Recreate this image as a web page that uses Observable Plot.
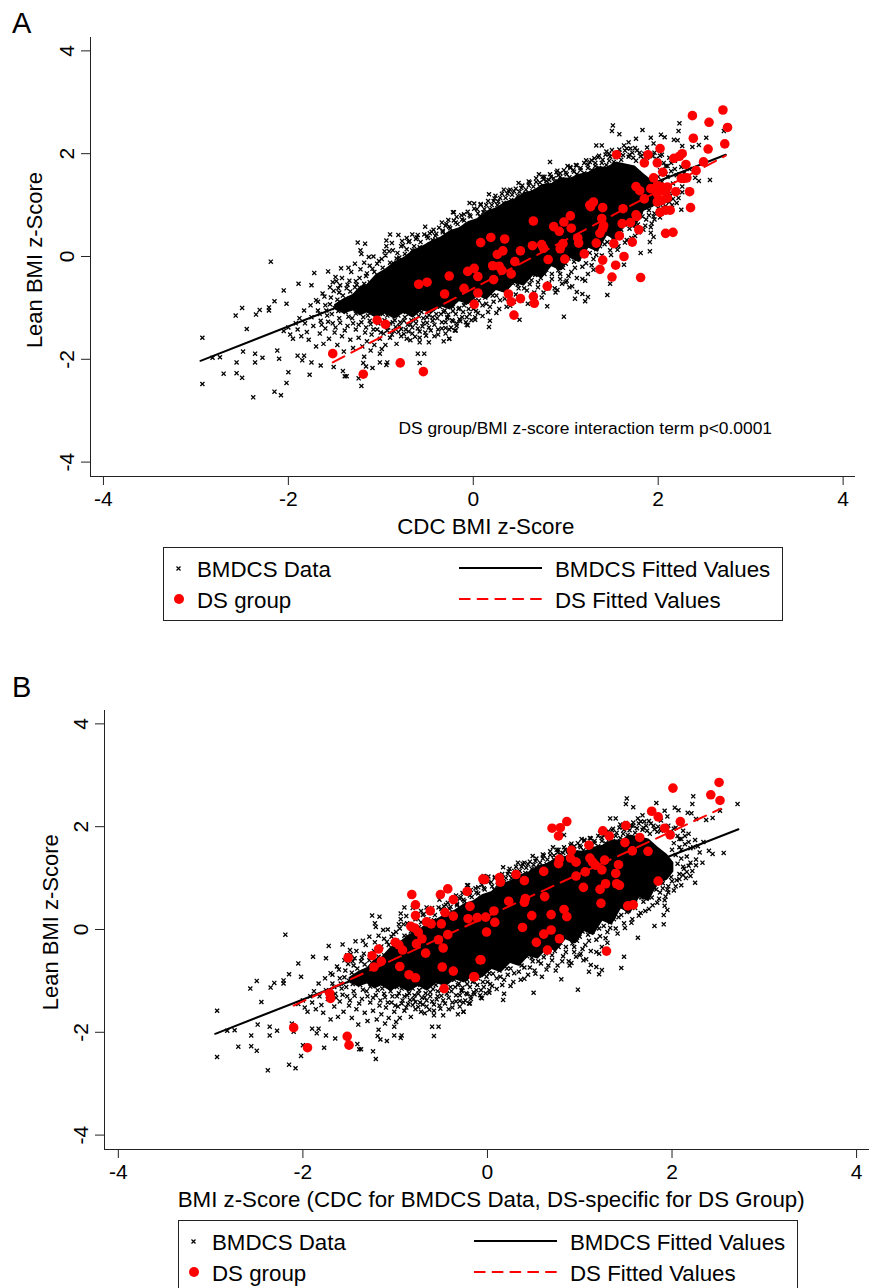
<!DOCTYPE html>
<html><head><meta charset="utf-8">
<script src="https://cdn.jsdelivr.net/npm/d3@7"></script>
<script src="https://cdn.jsdelivr.net/npm/@observablehq/plot@0.6"></script>
<style>
html,body{margin:0;padding:0;background:#fff;width:874px;height:1288px;overflow:hidden;font-family:"Liberation Sans",Arial,sans-serif;color:#000}
#page{position:relative;width:874px;height:1288px;overflow:hidden}
.panel{position:absolute;left:0}
.letter{position:absolute;left:12px;font-size:29px;line-height:32px}
.legend{position:absolute;width:618px;height:72px;border:1px solid #222;box-sizing:content-box;background:#fff}
.legend span{position:absolute;font-size:22.3px;line-height:24px;white-space:nowrap}
.legend svg{position:absolute;left:0;top:0;overflow:visible}
</style></head><body><div id="page"></div>
<script>
const tickValues=[-4,-2,0,2,4];
const xDomainA=[-4.14,4.134], xDomainB=[-4.15,4.14], yDomain=[-4.28,4.26];
const legendLabels=["BMDCS Data","DS group","BMDCS Fitted Values","DS Fitted Values"];
const fitBlackA=[[-2.95,-2.03],[2.73,1.98]], fitRedA=[[-1.52,-2.06],[2.73,1.96]];
const fitBlackB=[[-2.95,-2.03],[2.72,1.95]], fitRedB=[[-2.1,-1.48],[2.53,2.35]];
const coreX=[-1.5,-1.4,-1.3,-1.22,-1.15,-1.05,-.95,-.85,-.75,-.65,-.55,-.45,-.35,-.25,-.15,-.05,.05,.15,.25,.35,.45,.55,.65,.75,.85,.95,1.05,1.15,1.25,1.35,1.45,1.55,1.65,1.75,1.85,1.95,2.02];
const coreLow=[-1.02,-1.12,-1.06,-1.16,-1.1,-1.2,-1.12,-1.22,-1.1,-1.2,-1.05,-1.12,-.98,-1.04,-.88,-.94,-.78,-.84,-.66,-.72,-.52,-.58,-.38,-.42,-.2,-.28,-.04,-.12,.16,.08,.4,.3,.62,.54,.88,.96,1.12];
const coreHigh=[-.94,-.82,-.74,-.58,-.55,-.35,-.25,-.1,-.02,.12,.2,.3,.38,.5,.56,.68,.74,.88,.95,1.06,1.12,1.24,1.28,1.4,1.42,1.53,1.52,1.6,1.64,1.74,1.74,1.84,1.8,1.76,1.6,1.46,1.3];
const bmdcsOuter=[[-2.93,-1.58],[-2.93,-2.48],[-2.19,-.1],[-2.82,-1.97],[-2.74,-1.96],[-2.7,-2.28],[-2.56,-2.06],[-2.56,-2.27],[-2.5,-2.36],[-2.49,-1.85],[-2.36,-1.89],[-2.36,-2.06],[-2.28,-1.97],[-2.38,-2.74],[-2.15,-2.63],[-2.08,-2.7],[-2.02,-2.46],[-2,-2.25],[-2.1,-1.99],[-2.12,-1.83],[-2.57,-1.15],[-2.5,-1],[-2.45,-1.41],[-2.35,-1.13],[-2.31,-1.04],[-2.21,-.99],[-2.21,-1.05],[-2.15,-.87],[-2.05,-.66],[-2.02,-.92],[-1.89,-.53],[-1.75,-.56],[-1.72,-.32],[-1.57,-.29],[-1.43,-.23],[-1.28,-.14],[-1.25,.27],[-1.17,.25],[-1.22,.12],[-1.21,.05],[-1.13,-.01],[-.9,.43],[-.81,.42],[-.94,.31],[-.88,.26],[-.94,.2],[-.66,.43],[-.72,.36],[-.52,.58],[-.43,.52],[-.34,.66],[-.27,.71],[-.21,.86],[-.18,.77],[-.04,1.04],[.01,1.03],[-1.9,-1.93],[-1.83,-1.93],[-1.85,-2.02],[-1.75,-2.06],[-1.65,-2.12],[-1.77,-2.3],[-1.51,-2.15],[-1.41,-2.23],[-1.39,-2.33],[-1.37,-2.33],[-1.24,-2.37],[-1.21,-2.52],[-1.18,-1.95],[-1.19,-2.07],[-1.16,-2.14],[-1.09,-2.17],[-1.01,-2.06],[-.93,-2.06],[-.94,-2.11],[-.6,-1.89],[-.53,-1.89],[-.58,-2.07],[-1.11,-1.83],[-1.01,-1.89],[-.99,-1.8],[-.68,-1.63],[-.58,-1.67],[-.48,-1.67],[-.32,-1.65],[-.26,-1.6],[-.2,-1.44],[-.06,-1.34],[.02,-1.18],[1.51,2.55],[1.5,2.44],[1.58,2.38],[1.83,2.46],[2.23,2.59],[2.22,2.44],[2.03,2.37],[2.07,2.32],[2.71,2.44],[2.52,2.31],[2.37,2.13],[2.44,2.17],[2.26,2.15],[2.17,2.27],[2.21,2.26],[1.92,2.31],[1.95,2.2],[1.76,2.29],[1.75,2.11],[1.68,2.22],[1.63,2.16],[1.33,2.16],[1.39,2.16],[1.44,2.04],[.83,1.84],[1.02,1.76],[1.11,1.78],[1.22,1.87],[1.31,1.91],[.91,1.67],[.71,1.6],[.82,1.49],[.49,1.43],[.33,1.3],[.17,1.21],[-.22,.86],[2.56,1.49],[2.4,1.53],[2.44,1.47],[2.26,1.36],[2.22,1.14],[2.25,.91],[1.95,.78],[1.92,.57],[1.95,.38],[1.91,.28],[1.91,.1],[1.81,.07],[1.63,-.16],[1.48,-.53],[1.45,-.75],[1.24,-.79],[1.21,-.87],[1.18,-.73],[1.12,-.69],[1.1,-.82],[.98,-1.17],[.8,-.97],[.91,-.65],[1.04,-.6],[1.21,-.47],[1.28,-.17],[1.01,-.47],[.94,-.34],[.18,-1.25],[.17,-1.37],[.5,-1.23],[.02,-1.23],[-.07,-1.33],[-.19,-1.44],[-.22,-1.26],[-.3,-1.39],[-.26,-1.6],[-.28,-1.18],[-.15,-1.22]];
const bmdcsUpper=[[-1.52,-.5],[-1.46,-.62],[-1.42,-.42],[-1.36,-.55],[-1.32,-.3],[-1.27,-.48],[-1.22,-.25],[-1.16,-.38],[-1.12,-.18],[-1.07,-.3],[-1.02,-.09],[-.98,-.22],[-.95,.02],[-.9,-.12],[-.87,.12],[-.83,-.04],[-.78,.2],[-.74,.05],[-.7,.28],[-.66,.12],[-.62,.34],[-.58,.18],[-.55,.08],[-.5,.4],[-.47,.24],[-.44,.32],[-.4,.44],[-.37,.28],[-.33,.5],[-.3,.42],[-.26,.58],[-.23,.4],[-.19,.66],[-.15,.5],[-.12,.72],[-.08,.6],[-.04,.8],[0,.66],[.04,.92],[.07,.78],[.11,.86],[.14,1.0],[.18,.92],[.22,1.08],[.26,1.0],[.29,1.14],[.33,1.04],[.37,1.22],[.41,1.1],[.44,1.27],[.48,1.18],[.52,1.33],[.56,1.22],[.6,1.38],[.64,1.27],[.68,1.45],[.72,1.36],[.76,1.5],[.8,1.4],[.84,1.55],[.88,1.46],[.92,1.58],[.96,1.5],[1,1.63],[1.04,1.54],[1.08,1.68],[1.12,1.6],[1.16,1.72],[1.2,1.62],[1.24,1.78],[1.28,1.68],[1.32,1.82],[1.36,1.72],[1.4,1.88],[1.44,1.78],[1.48,1.94],[1.52,1.84],[1.56,2.02],[1.6,1.88],[1.64,2.06],[1.68,1.94],[1.72,2.02],[1.76,1.86],[1.8,2.02],[1.84,1.9],[1.88,2.12],[1.92,1.98],[1.96,2.02],[2,1.86],[2.04,1.98],[2.08,1.76],[2.12,1.92],[2.14,1.66],[2.18,1.86],[2.2,1.58],[2.25,1.74],[2.28,1.62],[2.34,1.7],[2.1,1.55],[2.16,1.42],[2.2,1.3],[1.7,2.1],[1.58,2.08],[1.47,2.0],[1.36,1.96],[1.26,1.84],[1.05,1.72],[.94,1.62],[.77,1.55],[.6,1.46],[.4,1.3],[.24,1.18],[.08,1.0],[-.1,.82],[-.3,.6],[-.47,.45],[-.6,.42],[-.77,.3],[-.96,.1],[-1.08,.0],[-1.18,-.12],[-1.35,-.22],[-1.49,-.4]];
const bmdcsLower=[[-2.05,-1.45],[-2,-1.38],[-1.98,-1.52],[-1.95,-1.6],[-1.92,-1.3],[-1.9,-1.42],[-1.88,-1.2],[-1.86,-1.55],[-1.83,-1.05],[-1.82,-1.3],[-1.8,-1.47],[-1.78,-1.62],[-1.76,-.95],[-1.75,-1.18],[-1.73,-1.35],[-1.7,-1.75],[-1.7,-.85],[-1.68,-1.05],[-1.66,-1.5],[-1.65,-1.25],[-1.63,-.72],[-1.62,-1.7],[-1.6,-.95],[-1.6,-1.4],[-1.58,-1.15],[-1.56,-1.6],[-1.55,-.6],[-1.54,-.8],[-1.52,-1.3],[-1.5,-1],[-1.5,-1.48],[-1.48,-.48],[-1.47,-1.72],[-1.45,-.7],[-1.45,-1.2],[-1.43,-.9],[-1.42,-1.55],[-1.4,-1.85],[-1.38,-1.08],[-1.37,-.62],[-1.36,-1.35],[-1.34,-.82],[-1.33,-1.62],[-1.31,-1.2],[-1.3,-1.78],[-1.28,-.6],[-1.27,-1.42],[-1.25,-1.05],[-1.24,-1.58],[-1.22,-.74],[-1.21,-1.28],[-1.2,-1.75],[-1.18,-.95],[-1.17,-1.48],[-1.15,-1.65],[-1.14,-1.15],[-1.12,-.5],[-1.11,-1.32],[-1.1,-1.52],[-1.08,-.82],[-1.07,-1.72],[-1.05,-1.2],[-1.04,-1.42],[-1.03,-.62],[-1.01,-1.6],[-1,-1.05],[-.98,-1.3],[-.97,-1.5],[-.96,-.4],[-.95,-1.72],[-.93,-1.15],[-.92,-1.38],[-.9,-1.58],[-.88,-1.05],[-.87,-1.28],[-.86,-1.45],[-.84,-.4],[-.83,-1.7],[-.81,-1.15],[-.8,-1.35],[-.78,-1.55],[-.76,-1.08],[-.75,-1.25],[-.73,-1.42],[-.72,-1.6],[-.7,-1.12],[-.68,-1.32],[-.66,-1.5],[-.64,-1.05],[-.62,-1.22],[-.6,-1.4],[-.58,-1.58],[-.56,-1.08],[-.54,-1.3],[-.52,-1.48],[-.5,-1.18],[-.48,-1.38],[-.46,-1.02],[-.44,-1.25],[-.42,-1.55],[-.4,-1.12],[-.38,-1.42],[-.36,-.98],[-.34,-1.28],[-.32,-1.08],[-.3,-1.5],[-.28,-1.2],[-.26,-.95],[-.24,-1.38],[-.22,-1.06],[-.2,-.86],[-.18,-1.3],[-.16,-1.02],[-.14,-.82],[-.12,-1.18],[-.1,-.95],[-.08,-1.28],[-.06,-.85],[-.04,-1.12],[-.02,-.78],[0,-1.02],[.02,-.85],[.05,-1.1],[.08,-.72],[.1,-.95],[.13,-.8],[.16,-1.08],[.19,-.66],[.22,-.88],[.25,-.76],[.28,-1.02],[.31,-.6],[.34,-.82],[.37,-.7],[.4,-.96],[.43,-.52],[.46,-.74],[.49,-.62],[.52,-.86],[.55,-.44],[.58,-.66],[.61,-.54],[.64,-.78],[.67,-.36],[.7,-.6],[.73,-.42],[.76,-.7],[.79,-.26],[.82,-.52],[.85,-.34],[.88,-.62],[.91,-.16],[.94,-.44],[.97,-.22],[1,-.5],[1.03,-.04],[1.06,-.3],[1.09,-.1],[1.12,-.42],[1.15,.08],[1.18,-.2],[1.21,.02],[1.24,-.34],[1.27,.24],[1.3,-.05],[1.33,.14],[1.36,.34],[1.39,.02],[1.42,.24],[1.45,.45],[1.48,.12],[1.51,.34],[1.54,.54],[1.57,.2],[1.6,.42],[1.63,.64],[1.66,.32],[1.69,.54],[1.72,.72],[1.75,.4],[1.78,.62],[1.81,.8],[1.84,.52],[1.87,.72],[1.9,.9],[1.93,.64],[1.96,.84],[1.99,1.02],[2.02,.76],[2.05,.96],[2.08,1.08],[2.1,.86],[2.13,1.18],[2.15,1],[2.18,1.24]];
const bmdcsDense=[[-1.68,-.88],[-1.66,-1.12],[-1.64,-1.33],[-1.61,-.78],[-1.59,-1.05],[-1.57,-1.27],[-1.55,-.93],[-1.53,-1.12],[-1.51,-.67],[-1.49,-1.38],[-1.47,-.84],[-1.46,-1.06],[-1.44,-.56],[-1.44,-1.29],[-1.41,-.76],[-1.4,-1],[-1.39,-1.44],[-1.37,-.87],[-1.35,-1.17],[-1.34,-.47],[-1.33,-.68],[-1.31,-.97],[-1.3,-1.3],[-1.29,-.8],[-1.27,-1.11],[-1.26,-.55],[-1.25,-.88],[-1.24,-1.33],[-1.23,-.42],[-1.22,-1],[-1.21,-.67],[-1.19,-1.18],[-1.18,-.53],[-1.17,-.82],[-1.16,-1.38],[-1.15,-.33],[-1.14,-.98],[-1.13,-.62],[-1.12,-1.25],[-1.1,-.74],[-1.09,-.24],[-1.08,-1.42],[-1.07,-.5],[-1.06,-1.08],[-1.05,-.9],[-1.04,-.14],[-1.03,-1.3],[-1.02,-.38],[-1.01,-.76],[-1,-1.48],[-.99,-.05],[-.98,-1.12],[-.97,-.6],[-.96,-1.24],[-.94,-.28],[-.93,-1.44],[-.92,-.87],[-.91,.1],[-.9,-1.3],[-.89,-.46],[-.88,-1.52],[-.86,-.14],[-.85,-1.24],[-.84,-1.37],[-.82,.07],[-.81,-1.47],[-.8,-.02],[-.79,-1.28],[-.78,-1.41],[-.76,.22],[-.75,-1.51],[-.74,-1.18],[-.72,.14],[-.71,-1.33],[-.7,-1.46],[-.69,.3],[-.67,-1.24],[-.66,-1.38],[-.64,.2],[-.63,-1.56],[-.62,-1.3],[-.61,.37],[-.59,-1.16],[-.58,-1.46],[-.57,.28],[-.55,-1.36],[-.54,-1.2],[-.53,.43],[-.51,-1.54],[-.5,-1.29],[-.49,.36],[-.48,-1.14],[-.46,-1.44],[-.45,.48],[-.44,-1.18],[-.42,-1.33],[-.41,.4],[-.39,-1.2],[-.38,-1.52],[-.37,.56],[-.35,-1.12],[-.34,-1.4],[-.33,.47],[-.31,-1.05],[-.3,-1.28],[-.29,.63],[-.27,-1.13],[-.26,-1.42],[-.25,.55],[-.23,-1.24],[-.22,-.98],[-.21,.7],[-.19,-1.12],[-.18,-1.35],[-.17,.63],[-.15,-1],[-.14,-1.26],[-.13,.8],[-.11,-1.08],[-.1,.7],[-.09,-.9],[-.07,-1.18],[-.06,.87],[-.05,-1.02],[-.03,.78],[-.02,-1.24],[-.01,-.92],[.01,.93],[.03,-1.06],[.05,.84],[.06,-.86],[.08,1.02],[.1,-1.16],[.12,.92],[.14,-.92],[.16,1.08],[.18,-.98],[.2,1.0],[.21,-.76],[.23,1.13],[.25,-1.1],[.27,1.07],[.29,-.85],[.31,1.22],[.33,-.64],[.35,1.14],[.36,-.98],[.38,1.28],[.4,-.74],[.42,1.2],[.44,-.88],[.46,1.32],[.48,-.55],[.5,1.26],[.51,-.8],[.53,1.38],[.55,-.62],[.57,1.3],[.59,-.92],[.61,1.44],[.63,-.46],[.65,1.36],[.66,-.7],[.68,1.52],[.7,-.5],[.72,1.44],[.74,-.8],[.75,1.55],[.77,-.34],[.79,1.47],[.81,-.62],[.83,1.6],[.85,-.44],[.87,1.52],[.89,-.7],[.9,1.64],[.92,-.27],[.94,1.55],[.96,-.53],[.98,1.68],[1,-.14],[1.01,1.6],[1.03,-.38],[1.05,1.74],[1.07,-.58],[1.09,1.65],[1.1,-.22],[1.12,1.77],[1.14,-.04],[1.16,1.68],[1.18,-.44],[1.2,1.82],[1.22,-.13],[1.24,1.72],[1.26,.07],[1.28,1.87],[1.3,-.26],[1.32,1.76],[1.33,.03],[1.35,1.93],[1.37,.2],[1.39,1.82],[1.41,-.08],[1.43,1.98],[1.45,.28],[1.47,1.86],[1.49,.03],[1.5,2.07],[1.52,.44],[1.54,1.93],[1.56,.13],[1.58,2.02],[1.6,.52],[1.62,1.97],[1.64,.27],[1.66,2.1],[1.67,.62],[1.69,1.98],[1.71,.36],[1.73,1.92],[1.75,.7],[1.77,2.06],[1.79,.47],[1.81,1.95],[1.83,.78],[1.85,2.0],[1.86,.6],[1.88,1.92],[1.9,.8],[1.92,.46],[1.94,1.95],[1.96,.72],[1.98,1.9],[2,.94],[2.02,1.96],[2.04,.84],[2.06,1.82],[2.08,.98],[2.1,1.76],[2.12,1.06],[2.14,1.82],[2.16,1.12],[2.18,1.7],[2.2,1.04],[2.23,1.6],[2.26,1.25],[2.3,1.5],[2.33,1.3],[2.04,1.45],[2.06,1.28],[2.08,1.6],[2.1,1.38],[2.12,1.22],[2.0,1.55],[2.02,1.68]];
const dsGroupA=[[2.7,2.85],[2.37,2.74],[2.55,2.61],[2.75,2.51],[2.38,2.3],[2.72,2.19],[2.54,2.09],[2.02,2.1],[1.55,1.98],[1.89,1.98],[1.85,1.82],[1.99,1.82],[2.17,1.91],[2.26,2],[2.23,1.95],[2.3,1.79],[2.49,1.84],[2.41,1.67],[2.05,1.64],[1.95,1.53],[2.25,1.52],[2.31,1.53],[2.28,1.52],[1.92,1.32],[1.99,1.38],[2.04,1.35],[2.1,1.35],[2.02,1.28],[1.99,1.22],[2.08,1.25],[2.1,1.14],[1.99,1.06],[2.04,1.09],[2.19,1.26],[2.34,1.26],[2.35,.95],[2.13,.9],[2.08,.9],[2.02,.86],[2.16,.47],[2.08,.45],[1.76,1.36],[1.8,1.28],[1.85,1.12],[1.62,.93],[1.76,.81],[1.77,.78],[1.7,.66],[1.61,.64],[1.79,.52],[1.58,.4],[1.72,.28],[1.52,.25],[1.63,0],[1.54,-.17],[1.4,-.07],[1.37,-.25],[1.5,-.4],[1.81,-.41],[1.3,1.06],[1.26,1],[1.27,.97],[1.4,.95],[1.39,.74],[1.41,.6],[1.4,.54],[1.37,.45],[1.33,.26],[1.2,.05],[1.14,.26],[1.13,.36],[1.05,.79],[.98,.67],[1.06,.55],[.87,.58],[.93,.49],[.97,.25],[.94,.15],[.99,-.05],[.81,-.06],[.65,.69],[.64,.21],[.74,.23],[.76,.16],[.51,.11],[.45,-.1],[.34,.34],[.19,.37],[.08,.27],[.32,.11],[.26,.04],[.21,-.18],[.28,-.19],[.31,-.27],[.41,-.34],[.22,-.45],[.05,-.39],[.01,-.23],[-.06,-.29],[-.26,-.38],[-.1,-.62],[-.31,-.73],[.05,-.71],[.01,-.93],[.38,-.73],[.41,-.88],[.51,-.82],[.65,-.78],[.66,-.91],[.8,-.58],[.44,-1.14],[-1.52,-1.89],[-1.19,-2.29],[-.79,-2.07],[-.54,-2.24],[-1.04,-1.24],[-.95,-1.32],[-.59,-.54],[-.5,-.5]];
const dsGroupB=[[-2.1,-1.91],[-1.95,-2.3],[-1.52,-2.08],[-1.5,-2.25],[-1.71,-1.24],[-1.7,-1.34],[-1.51,-.55],[-1.25,-.51],[-1.18,-.38],[-1.15,-.62],[-1.23,-.73],[-.95,-.72],[-.85,-.88],[-.78,-.94],[-.47,-1.15],[-1,-.25],[-.96,-.3],[-.92,-.4],[-.67,-.46],[-.77,-.28],[-.71,-.18],[-.75,-.05],[-.79,.03],[-.83,.06],[-.78,.27],[-.78,.48],[-.82,.68],[-.51,.68],[-.43,.79],[-.37,.58],[-.22,.74],[-.62,.36],[-.46,.33],[-.37,.26],[-.66,.15],[-.61,.11],[-.5,.11],[-.43,-.1],[-.53,-.2],[-.48,-.36],[-.49,-.73],[-.37,-.81],[-.14,-.92],[-.08,-.59],[-.19,.45],[-.21,.21],[-.11,.23],[-.05,.98],[2.51,2.86],[2.01,2.75],[2.42,2.62],[2.52,2.51],[1.78,2.3],[1.85,2.19],[2.09,2.1],[1.92,1.97],[1.98,1.84],[1.5,2.02],[1.25,1.92],[1.32,1.82],[1.65,1.79],[1.49,1.69],[1.57,1.53],[1.74,1.52],[1.1,1.64],[.91,1.54],[.86,2.1],[.79,1.98],[.7,1.97],[.77,1.82],[.78,1.37],[.77,1.28],[.9,1.39],[.96,1.31],[1.11,1.39],[1.14,1.31],[1.17,1.25],[1.27,1.35],[1.24,1.16],[1.42,1.26],[1.39,1.09],[1.06,1.12],[.96,1.04],[.61,1.13],[.4,.95],[.31,1.07],[.14,.92],[.13,1.01],[-.03,.97],[1.85,.94],[1.28,.89],[1.4,.89],[1.43,.86],[1.22,.78],[1.04,.82],[.62,.64],[.41,.6],[.4,.53],[.23,.55],[1.23,.51],[1.52,.46],[1.58,.48],[.07,.36],[-.02,.24],[.08,.14],[.48,.27],[.69,.29],[.83,.39],[.86,.25],[.38,.04],[.69,-.01],[.61,-.09],[-.01,-.05],[.78,-.18],[.53,-.25],[.65,-.4],[-.07,-.59],[1.29,-.42],[-.15,-.92]];

const bmdcsAll=[...bmdcsOuter,...bmdcsUpper,...bmdcsLower,...bmdcsDense];
const coreRows=coreX.map((x,i)=>({x,low:coreLow[i],high:coreHigh[i]}));
const axisColor="#222";
const fontFamily="'Liberation Sans',Arial,sans-serif";

function panel(top,left,right,xDomain,xTitle,xTitleAt,yTitleAt,fitBlack,fitRed,ds,note){
  const marks=[
    Plot.axisX({ticks:tickValues,tickSize:9,tickPadding:6,tickFormat:String,fontSize:21,stroke:axisColor,label:null}),
    Plot.axisY({ticks:tickValues,tickSize:9,tickPadding:8,tickFormat:String,fontSize:21,tickRotate:-90,stroke:axisColor,label:null}),
    Plot.ruleX([xDomain[0]],{stroke:axisColor,strokeWidth:1}),
    Plot.ruleY([yDomain[0]],{stroke:axisColor,strokeWidth:1}),
    Plot.areaY(coreRows,{x:"x",y1:"low",y2:"high",fill:"#000",curve:"linear"}),
    Plot.dot(bmdcsAll,{x:d=>d[0],y:d=>d[1],symbol:"times",r:2,stroke:"#000",strokeWidth:1.3,fill:"none"}),
    Plot.line(fitBlack,{x:d=>d[0],y:d=>d[1],stroke:"#000",strokeWidth:2}),
    Plot.line(fitRed,{x:d=>d[0],y:d=>d[1],stroke:"#f00",strokeWidth:2,strokeDasharray:"13,8"}),
    Plot.dot(ds,{x:d=>d[0],y:d=>d[1],r:4.8,fill:"#f00",stroke:"none"}),
    Plot.text([xTitle],{x:xTitleAt[0],y:xTitleAt[1],text:d=>d,fontSize:22.3,fill:"#000"}),
    Plot.text(["Lean BMI z-Score"],{x:yTitleAt[0],y:yTitleAt[1],text:d=>d,fontSize:22,rotate:-90,fill:"#000"})
  ];
  if(note) marks.push(Plot.text([note],{x:-.81,y:-3.35,text:d=>d,textAnchor:"start",fontSize:17.4,fill:"#000"}));
  const svg=Plot.plot({width:874,height:560,marginLeft:left,marginRight:right,marginTop:37,marginBottom:84,
    style:{fontFamily,background:"transparent",color:"#000",overflow:"visible"},
    x:{domain:xDomain},y:{domain:yDomain},marks});
  svg.classList.add("panel");svg.style.top=top+"px";
  return svg;
}
function legend(left,top){
  const d=document.createElement("div");d.className="legend";d.style.left=left+"px";d.style.top=top+"px";
  d.innerHTML=`<svg width="618" height="72">
   <path d="M12.5 18.5l4 4m0-4l-4 4" stroke="#000" stroke-width="1.2" fill="none"/>
   <circle cx="15" cy="51" r="5" fill="#f00"/>
   <line x1="295" x2="378" y1="20" y2="20" stroke="#000" stroke-width="2"/>
   <line x1="295" x2="378" y1="51" y2="51" stroke="#f00" stroke-width="2" stroke-dasharray="11.5,6.3"/></svg>
   <span style="left:33px;top:10px">${legendLabels[0]}</span><span style="left:33px;top:41px">${legendLabels[1]}</span>
   <span style="left:391px;top:10px">${legendLabels[2]}</span><span style="left:391px;top:41px">${legendLabels[3]}</span>`;
  return d;
}
function letter(t,top){const d=document.createElement("div");d.className="letter";d.textContent=t;d.style.top=top+"px";return d;}
const page=document.getElementById("page");
page.append(
  panel(0,90,19,xDomainA,"CDC BMI z-Score",[.135,-5.25],[-4.74,-.07],fitBlackA,fitRedA,dsGroupA,"DS group/BMI z-score interaction term p<0.0001"),
  letter("A",7),legend(163,547),
  panel(673,104,5,xDomainB,"BMI z-Score (CDC for BMDCS Data, DS-specific for DS Group)",[.04,-5.25],[-4.73,.14],fitBlackB,fitRedB,dsGroupB,null),
  letter("B",671),legend(178,1220)
);
</script></body></html>
